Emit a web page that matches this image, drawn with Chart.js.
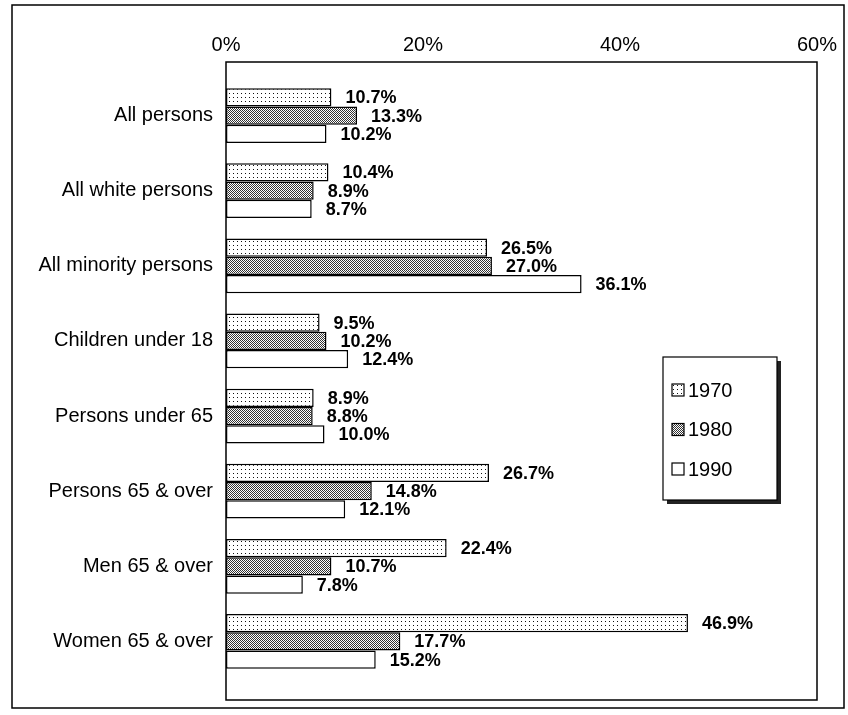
<!DOCTYPE html>
<html>
<head>
<meta charset="utf-8">
<script src="https://cdn.jsdelivr.net/npm/chart.js@4"></script>
<style>
  html, body { margin: 0; padding: 0; background: #fff; }
  canvas { display: block; }
</style>
</head>
<body>
<canvas id="c" width="848" height="715"></canvas>
<script>
const categories = ['All persons', 'All white persons', 'All minority persons', 'Children under 18',
  'Persons under 65', 'Persons 65 & over', 'Men 65 & over', 'Women 65 & over'];
const seriesLabels = ['1970', '1980', '1990'];
const values1970 = [10.7, 10.4, 26.5, 9.5, 8.9, 26.7, 22.4, 46.9];
const values1980 = [13.3, 8.9, 27.0, 10.2, 8.8, 14.8, 10.7, 17.7];
const values1990 = [10.2, 8.7, 36.1, 12.4, 10.0, 12.1, 7.8, 15.2];
const tickValues = [0, 20, 40, 60];

const FONT = '"Liberation Sans", Arial, sans-serif';
const canvas = document.getElementById('c');
const mainCtx = canvas.getContext('2d');

function makePattern(w, h, dots, color) {
  const t = document.createElement('canvas');
  t.width = w; t.height = h;
  const g = t.getContext('2d');
  g.fillStyle = '#fff';
  g.fillRect(0, 0, w, h);
  g.fillStyle = color;
  dots.forEach(([x, y]) => g.fillRect(x, y, 1, 1));
  return mainCtx.createPattern(t, 'repeat');
}
const pat1970 = makePattern(4, 4, [[1, 1]], '#111');
const pat1980 = makePattern(2, 2, [[0, 0], [1, 1]], '#333');
const pat1990 = '#ffffff';
const fills = [pat1970, pat1980, pat1990];

const framePlugin = {
  id: 'frame',
  beforeDraw(chart) {
    const ctx = chart.ctx;
    ctx.save();
    ctx.fillStyle = '#fff';
    ctx.fillRect(0, 0, chart.width, chart.height);
    ctx.strokeStyle = '#000';
    ctx.lineWidth = 1.5;
    ctx.strokeRect(12, 5, 832, 703);
    const xs = chart.scales.x;
    const ca = chart.chartArea;
    const l = xs.getPixelForValue(tickValues[0]);
    const r = xs.getPixelForValue(tickValues[tickValues.length - 1]);
    ctx.strokeRect(l, ca.top - 16, r - l, ca.bottom - ca.top + 37);
    ctx.restore();
  }
};

const labelPlugin = {
  id: 'valueLabels',
  afterDatasetsDraw(chart) {
    const ctx = chart.ctx;
    ctx.save();
    ctx.font = 'bold 18px ' + FONT;
    ctx.fillStyle = '#000';
    ctx.textAlign = 'left';
    ctx.textBaseline = 'middle';
    chart.data.datasets.forEach((ds, di) => {
      const meta = chart.getDatasetMeta(di);
      meta.data.forEach((el, i) => {
        ctx.fillText(ds.data[i].toFixed(1) + '%', el.x + 14, el.y + 1);
      });
    });
    ctx.restore();
  }
};

const legendPlugin = {
  id: 'boxLegend',
  afterDraw(chart) {
    const ctx = chart.ctx;
    ctx.save();
    const bx = 663, by = 357, bw = 114, bh = 143;
    ctx.fillStyle = '#222';
    ctx.fillRect(bx + 4, by + 4, bw, bh);
    ctx.fillStyle = '#fff';
    ctx.fillRect(bx, by, bw, bh);
    ctx.strokeStyle = '#000';
    ctx.lineWidth = 1.2;
    ctx.strokeRect(bx, by, bw, bh);
    ctx.font = '20px ' + FONT;
    ctx.textBaseline = 'middle';
    ctx.textAlign = 'left';
    chart.data.datasets.forEach((ds, i) => {
      const cy = by + 33 + i * 39.5;
      ctx.fillStyle = ds.backgroundColor;
      ctx.fillRect(672, cy - 6, 12, 12);
      ctx.strokeStyle = '#000';
      ctx.lineWidth = 1.2;
      ctx.strokeRect(672, cy - 6, 12, 12);
      ctx.fillStyle = '#000';
      ctx.fillText(ds.label, 688, cy + 1);
    });
    ctx.restore();
  }
};

const seriesValues = [values1970, values1980, values1990];

new Chart(canvas, {
  type: 'bar',
  data: {
    labels: categories,
    datasets: seriesLabels.map((lab, i) => ({
      label: lab,
      data: seriesValues[i],
      backgroundColor: fills[i],
      borderColor: '#000',
      borderWidth: 1.5,
      borderSkipped: false,
      categoryPercentage: 0.73,
      barPercentage: 1.0
    }))
  },
  options: {
    indexAxis: 'y',
    responsive: false,
    devicePixelRatio: 1,
    animation: false,
    layout: { padding: { left: 0, right: 31, top: 0, bottom: 36 } },
    plugins: { legend: { display: false }, tooltip: { enabled: false } },
    scales: {
      x: {
        type: 'linear',
        position: 'top',
        min: tickValues[0],
        max: tickValues[tickValues.length - 1],
        afterBuildTicks: s => { s.ticks = tickValues.map(v => ({ value: v })); },
        afterFit: s => { s.height = 78; s.paddingLeft = 0; s.paddingRight = 0; },
        grid: { display: false, drawTicks: false },
        border: { display: false },
        ticks: {
          callback: v => v + '%',
          color: '#000',
          font: { family: FONT, size: 20 },
          padding: 21,
          maxRotation: 0
        }
      },
      y: {
        type: 'category',
        afterFit: s => { s.width = 226; },
        grid: { display: false, drawTicks: false },
        border: { display: false },
        ticks: {
          color: '#000',
          font: { family: FONT, size: 20 },
          padding: 13
        }
      }
    }
  },
  plugins: [framePlugin, labelPlugin, legendPlugin]
});
</script>
</body>
</html>
